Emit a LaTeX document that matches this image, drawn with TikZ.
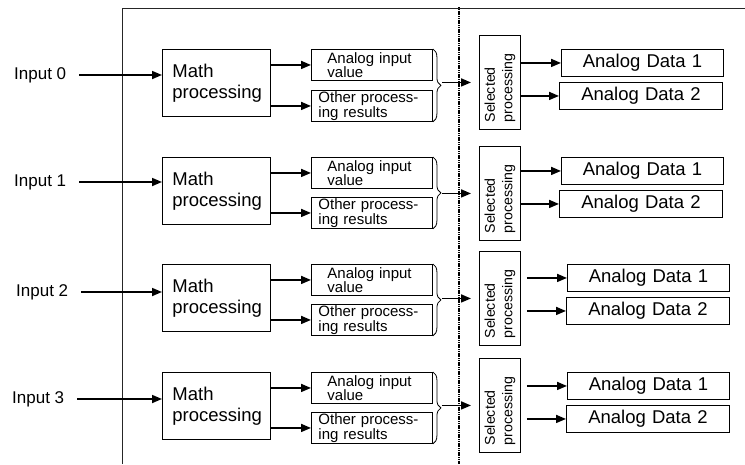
\documentclass[tikz,border=0pt]{standalone}
\usepackage{fontspec}
\setmainfont{Liberation Sans}
\usepackage{graphicx}
\usetikzlibrary{arrows.meta,decorations.pathreplacing,calc}
\begin{document}
\begin{tikzpicture}[x=1pt,y=-1pt,
  box/.style={draw, line width=0.9pt, inner ysep=0pt, anchor=north west},
  mathbox/.style={box, minimum width=108pt, minimum height=67pt, inner xsep=10pt, text width=88pt, align=left, font=\fontsize{18.5}{21}\selectfont},
  abox/.style={box, minimum width=121pt, minimum height=31pt, inner xsep=16pt, text width=89pt, align=left, font=\fontsize{15}{14.5}\selectfont},
  obox/.style={box, minimum width=121pt, minimum height=31pt, inner xsep=7pt, text width=107pt, align=left, font=\fontsize{15}{14.5}\selectfont},
  selbox/.style={box, minimum width=41pt, minimum height=94pt, inner sep=0pt},
  adbox/.style={box, minimum height=27pt, inner xsep=0pt, text width=#1, align=center, font=\fontsize{18.5}{20}\selectfont},
  intext/.style={anchor=west, inner sep=0pt, font=\fontsize{17}{19}\selectfont},
  arr/.style={line width=1.7pt, -{Triangle[length=10pt,width=8pt]}},
  bracestyle/.style={line width=0.8pt, decorate, decoration={brace, amplitude=8pt}},
  frame/.style={line width=0.9pt, black!85},
  divider/.style={line width=1.6pt, dash pattern=on 1.2pt off 0.6pt}
]
\useasboundingbox (0,0) rectangle (745,464);
\coordinate (ftl) at (122,8);
\coordinate (fbl) at (122,464);
\coordinate (ftr) at (745,8);
\draw[frame] (fbl) -- (ftl) -- (ftr);
\coordinate (dt) at (459,7);
\coordinate (db) at (459,464);
\draw[divider] (dt) -- (db);
\foreach \i/\mt/\at/\ot/\st/\adt/\adb/\iy/\adx/\bdx/\ix/\sh in {
  0/49/49/90/35/49/82/75/561/559/14/0,
  1/157/157/197/146/157/190/182/561/559/14/0,
  2/264/264/304/251/264/297/292/567/566/16/6,
  3/372/372/412/358/372/405/399/567/566/12/6}{
  \node[mathbox] (m\i) at (162,\mt) {Math\\processing};
  \node[abox] (a\i) at (311,\at) {Analog input\\value};
  \node[obox] (o\i) at (311,\ot) {Other process-\\ing results};
  \node[selbox] (s\i) at (479,\st) {\rotatebox{90}{\parbox{80pt}{\fontsize{14.2}{17.5}\selectfont\raggedright Selected\\processing}}};
  \node[adbox=162pt] (d\i) at (\adx,\adt) {Analog Data 1};
  \node[adbox=163pt] (e\i) at (\bdx,\adb) {Analog Data 2};
  \node[intext] (in\i) at (\ix,\iy) {Input \i};
  \draw[arr, shorten <=13pt] (in\i.east) -- (m\i.west |- in\i.east);
  \draw[arr] (m\i.east |- a\i.west) -- (a\i.west);
  \draw[arr] (m\i.east |- o\i.west) -- (o\i.west);
  \draw[bracestyle] (a\i.north east) -- (o\i.south east);
  \coordinate (t\i) at ($(o\i.east |- s\i.west)+(9,0)$);
  \draw[arr, shorten >=8pt] (t\i) -- (s\i.west);
  \draw[arr, shorten <=\sh pt] (s\i.east |- d\i.west) -- (d\i.west);
  \draw[arr, shorten <=\sh pt] (s\i.east |- e\i.west) -- (e\i.west);
}
\end{tikzpicture}
\end{document}
